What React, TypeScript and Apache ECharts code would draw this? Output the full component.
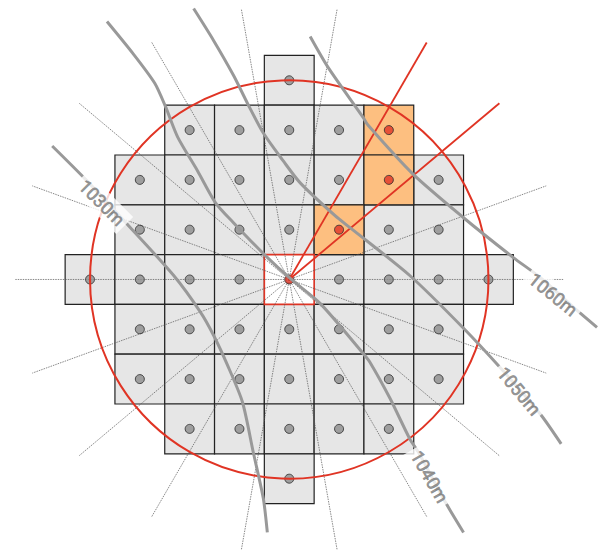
import React, { useEffect, useRef } from "react";
import * as echarts from "echarts";

// Grid: one cell = 50 units, origin at the central cell.
const cellRows: [number, number[]][] = [
  [200, [0]],
  [150, [-100, -50, 0, 50, 100]],
  [100, [-150, -100, -50, 0, 50, 100, 150]],
  [50, [-150, -100, -50, 0, 50, 100, 150]],
  [0, [-200, -150, -100, -50, 0, 50, 100, 150, 200]],
  [-50, [-150, -100, -50, 0, 50, 100, 150]],
  [-100, [-150, -100, -50, 0, 50, 100, 150]],
  [-150, [-100, -50, 0, 50, 100]],
  [-200, [0]],
];
const selectedCells: [number, number][] = [[100, 150], [100, 100], [50, 50]];
const centerCell: [number, number] = [0, 0];
const circleRadius = 200;

const grayRayEnds: [number, number][] = [
  [275, 0], [258, 94], [48, 271], [-48, 271], [-138, 238], [-211, 177], [-258, 94],
  [-275, 0], [-258, -94], [-211, -177], [-138, -238], [-48, -271], [48, -271],
  [138, -238], [211, -177], [258, -94],
];
const redRayEnds: [number, number][] = [[211, 177], [138, 238]];

const contour1030: [number, number][] = [
  [-238, 134], [-205, 101], [-165, 58], [-116, 4], [-89, -33], [-76, -56], [-62, -86],
  [-47, -123], [-36, -174], [-26, -220], [-22, -254],
];
const contour1040: [number, number][] = [
  [-183, 259], [-157, 227], [-135, 197], [-124, 173], [-112, 143], [-92, 109], [-74, 77],
  [-56, 57], [-26, 26], [1, 1], [31, -24], [74, -74], [81, -83], [101, -119], [121, -160],
  [130, -174], [157, -224], [175, -254],
];
const contour1050: [number, number][] = [
  [-96, 272], [-76, 240], [-56, 205], [-42, 177], [-26, 147], [-6, 119], [11, 97], [46, 64],
  [61, 52], [121, 4], [175, -49], [214, -91], [252, -135], [273, -165],
];
const contour1060: [number, number][] = [
  [21, 244], [39, 213], [74, 163], [79, 155], [124, 106], [175, 62], [225, 22], [252, 2],
  [289, -31], [309, -48],
];
const contourLabels: { text: string; at: [number, number]; angle: number }[] = [
  { text: "1030m", at: [-188, 77], angle: -45 },
  { text: "1040m", at: [141, -198], angle: -60 },
  { text: "1050m", at: [231, -112], angle: -50 },
  { text: "1060m", at: [265, -15], angle: -39 },
];

const isSelected = (x: number, y: number) => selectedCells.some((c) => c[0] === x && c[1] === y);
const allCells = cellRows.flatMap(([y, xs]) => xs.map((x) => [x, y] as [number, number]));

const RED = "#e03424";
const GRAY = "#999999";

export default function App() {
  const ref = useRef<HTMLDivElement>(null);
  useEffect(() => {
    document.body.style.margin = "0";
    const chart = echarts.init(ref.current!, undefined, { renderer: "svg" });
    const renderCell = (color: string, stroke: string, width: number) => (_: any, api: any) => {
      const c = api.coord([api.value(0), api.value(1)]);
      const s = api.size([50, 50]);
      return {
        type: "rect",
        shape: { x: c[0] - s[0] / 2, y: c[1] - s[1] / 2, width: s[0], height: s[1] },
        style: { fill: color, stroke, lineWidth: width },
      };
    };
    const line = (data: [number, number][], lineStyle: any, z: number, smooth = 0) => ({
      type: "line",
      data,
      z,
      smooth,
      symbol: "none",
      silent: true,
      lineStyle,
    });
    const rays = (ends: [number, number][], lineStyle: any, z: number) =>
      ends.map((e) => line([[0, 0], e], lineStyle, z));
    chart.setOption({
      animation: false,
      backgroundColor: "#ffffff",
      grid: { left: 0, right: 0, top: 0, bottom: 0 },
      xAxis: { type: "value", show: false, min: -290.4, max: 311 },
      yAxis: { type: "value", show: false, min: -272.6, max: 280.6 },
      series: [
        {
          type: "custom", z: 1, silent: true,
          renderItem: renderCell("#e6e6e6", "#222222", 1.2),
          data: allCells.filter(([x, y]) => !isSelected(x, y) && !(x === centerCell[0] && y === centerCell[1])),
        },
        {
          type: "custom", z: 2, silent: true,
          renderItem: renderCell("#fdbf80", "#222222", 1.2),
          data: selectedCells,
        },
        {
          type: "custom", z: 3, silent: true,
          renderItem: renderCell("#ffffff", RED, 1.6),
          data: [centerCell],
        },
        ...rays(grayRayEnds, { color: "#555555", width: 0.7, type: [1.5, 1] }, 4),
        {
          type: "scatter", z: 5, silent: true, symbolSize: 9,
          itemStyle: { color: "#8c8c8c", borderColor: "#2a2a2a", borderWidth: 1 },
          data: allCells.filter(([x, y]) => !isSelected(x, y) && !(x === centerCell[0] && y === centerCell[1])),
        },
        {
          type: "scatter", z: 5, silent: true, symbolSize: 9,
          itemStyle: { color: RED, borderColor: "#2a2a2a", borderWidth: 1 },
          data: [...selectedCells, centerCell],
        },
        ...rays(redRayEnds, { color: RED, width: 1.8 }, 6),
        {
          type: "custom", z: 6, silent: true,
          renderItem: (_: any, api: any) => {
            const c = api.coord([api.value(0), api.value(1)]);
            const s = api.size([api.value(2), api.value(2)]);
            return {
              type: "circle",
              shape: { cx: c[0], cy: c[1], r: s[0] },
              style: { fill: "none", stroke: RED, lineWidth: 2 },
            };
          },
          data: [[0, 0, circleRadius]],
        },
        ...[contour1030, contour1040, contour1050, contour1060].map((d) =>
          line(d, { color: GRAY, width: 3 }, 7, 0.25)
        ),
        ...contourLabels.map((l) => ({
          type: "scatter",
          z: 8,
          silent: true,
          symbolSize: 0,
          data: [l.at],
          label: {
            show: true,
            position: "inside",
            formatter: l.text,
            rotate: l.angle,
            color: "#808080",
            fontFamily: "Roboto",
            fontWeight: "normal",
            fontSize: 18,
            textBorderColor: "#808080",
            textBorderWidth: 0.7,
            backgroundColor: "#ffffff",
            padding: [3, 4],
          },
        })),
      ],
    });
    return () => chart.dispose();
  }, []);
  return <div ref={ref} style={{ position: "absolute", left: 0, top: 0, width: 599, height: 551 }} />;
}
